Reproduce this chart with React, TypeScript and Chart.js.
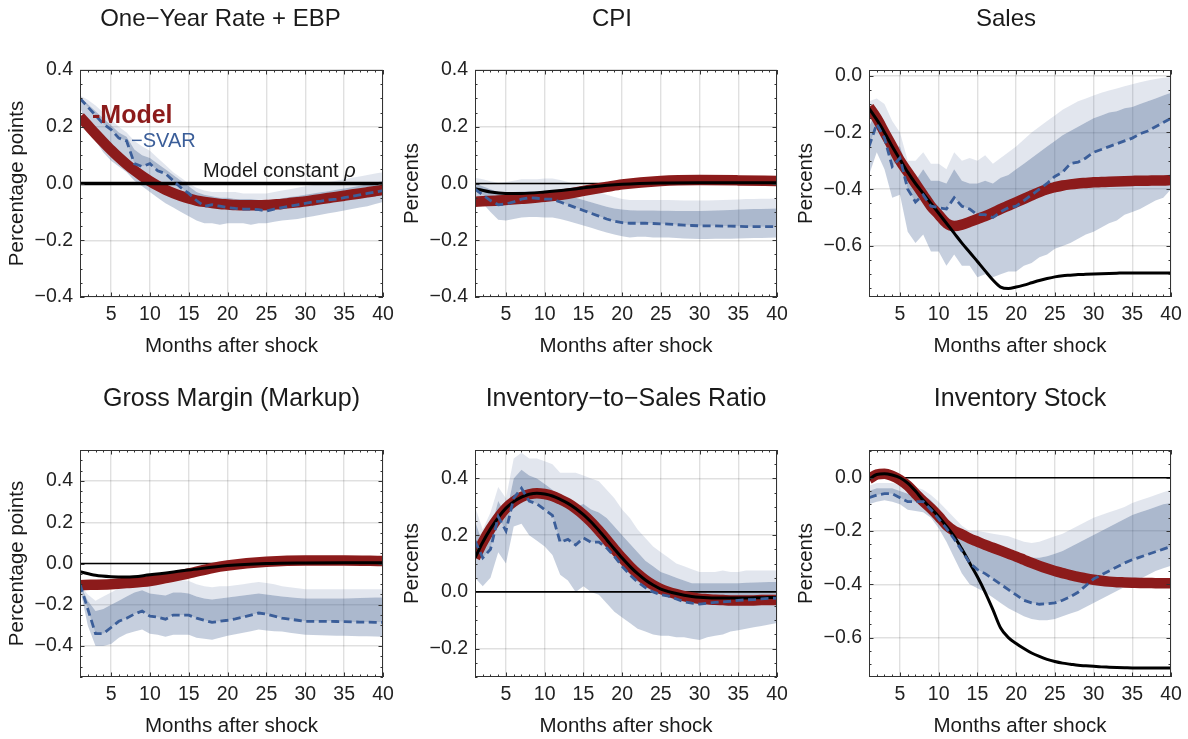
import React, { useEffect, useRef } from "react";
import { Chart, registerables } from "chart.js";

Chart.register(...registerables);

const FONT = '"Liberation Sans", Arial, Helvetica, sans-serif';

// ---------- shared axis data ----------
const MONTHS = [1, 2, 3, 4, 5, 6, 7, 8, 9, 10, 11, 12, 13, 14, 15, 16, 17, 18, 19, 20, 21, 22, 23, 24, 25, 26, 27, 28, 29, 30, 31, 32, 33, 34, 35, 36, 37, 38, 39, 40];
const X_TICKS = [5, 10, 15, 20, 25, 30, 35, 40];
const ZERO_MONTHS = [1, 40];
const ZERO_VALUES = [0, 0];

// ---------- Panel 1: One-Year Rate + EBP ----------
const RATE_SVAR = [0.30, 0.27, 0.24, 0.21, 0.19, 0.16, 0.15, 0.07, 0.06, 0.07, 0.045, 0.035, 0.01, -0.015, -0.035, -0.06, -0.08, -0.075, -0.08, -0.085, -0.088, -0.09, -0.09, -0.092, -0.097, -0.09, -0.085, -0.08, -0.075, -0.07, -0.065, -0.062, -0.058, -0.055, -0.05, -0.045, -0.04, -0.035, -0.03, -0.025];
const RATE_UP90 = [0.31, 0.295, 0.275, 0.25, 0.225, 0.2, 0.18, 0.15, 0.13, 0.115, 0.09, 0.065, 0.04, 0.02, 0.0, -0.015, -0.025, -0.03, -0.03, -0.03, -0.03, -0.035, -0.035, -0.035, -0.035, -0.03, -0.025, -0.02, -0.015, -0.01, -0.005, 0.0, 0.005, 0.01, 0.015, 0.02, 0.025, 0.03, 0.035, 0.04];
const RATE_UP68 = [0.305, 0.28, 0.255, 0.23, 0.205, 0.18, 0.165, 0.12, 0.1, 0.09, 0.07, 0.05, 0.03, 0.01, -0.01, -0.03, -0.04, -0.045, -0.05, -0.05, -0.055, -0.055, -0.055, -0.058, -0.06, -0.056, -0.052, -0.048, -0.044, -0.04, -0.035, -0.031, -0.027, -0.022, -0.018, -0.013, -0.008, -0.003, 0.003, 0.01];
const RATE_LOW = [0.27, 0.2, 0.15, 0.11, 0.08, 0.06, 0.04, 0.01, -0.01, -0.03, -0.05, -0.07, -0.085, -0.1, -0.115, -0.13, -0.14, -0.14, -0.145, -0.14, -0.14, -0.14, -0.145, -0.14, -0.14, -0.135, -0.13, -0.128, -0.125, -0.12, -0.115, -0.11, -0.105, -0.1, -0.095, -0.09, -0.085, -0.08, -0.072, -0.065];
const RATE_MODEL = [0.235, 0.205, 0.175, 0.146, 0.118, 0.092, 0.068, 0.046, 0.026, 0.008, -0.008, -0.022, -0.034, -0.044, -0.053, -0.06, -0.065, -0.069, -0.072, -0.074, -0.076, -0.077, -0.077, -0.077, -0.076, -0.074, -0.072, -0.069, -0.066, -0.063, -0.059, -0.055, -0.051, -0.047, -0.043, -0.039, -0.035, -0.031, -0.027, -0.023];
const RATE_CONST_MONTHS = [1, 40];
const RATE_CONST = [0, 0];

// ---------- Panel 2: CPI ----------
const CPI_SVAR = [-0.02, -0.04, -0.06, -0.075, -0.072, -0.065, -0.055, -0.05, -0.052, -0.055, -0.055, -0.065, -0.075, -0.085, -0.095, -0.105, -0.115, -0.125, -0.133, -0.138, -0.14, -0.14, -0.14, -0.141, -0.142, -0.143, -0.145, -0.147, -0.148, -0.149, -0.149, -0.149, -0.15, -0.15, -0.151, -0.152, -0.152, -0.152, -0.152, -0.152];
const CPI_UP90 = [0.02, 0.015, 0.008, 0.003, 0.005, 0.01, 0.015, 0.015, 0.015, 0.018, 0.018, 0.012, 0.005, -0.003, -0.01, -0.02, -0.03, -0.04, -0.048, -0.055, -0.058, -0.058, -0.058, -0.058, -0.058, -0.058, -0.059, -0.06, -0.06, -0.06, -0.06, -0.059, -0.058, -0.057, -0.056, -0.055, -0.055, -0.054, -0.054, -0.053];
const CPI_UP68 = [0.0, -0.01, -0.02, -0.03, -0.032, -0.03, -0.028, -0.027, -0.028, -0.03, -0.03, -0.035, -0.042, -0.05, -0.058, -0.066, -0.074, -0.082, -0.088, -0.092, -0.094, -0.095, -0.095, -0.095, -0.096, -0.096, -0.097, -0.097, -0.097, -0.097, -0.096, -0.095, -0.094, -0.093, -0.092, -0.091, -0.09, -0.09, -0.089, -0.088];
const CPI_LOW = [-0.04, -0.07, -0.1, -0.128, -0.13, -0.125, -0.12, -0.118, -0.118, -0.12, -0.12, -0.125, -0.132, -0.14, -0.148, -0.156, -0.165, -0.173, -0.18, -0.186, -0.19, -0.188, -0.188, -0.19, -0.19, -0.19, -0.192, -0.194, -0.195, -0.196, -0.196, -0.195, -0.195, -0.195, -0.194, -0.193, -0.192, -0.192, -0.191, -0.19];
const CPI_MODEL_MONTHS = [1, 4, 7, 10, 13, 15, 18, 20, 25, 30, 35, 40];
const CPI_MODEL = [-0.064, -0.06, -0.054, -0.047, -0.036, -0.026, -0.012, -0.003, 0.009, 0.012, 0.011, 0.009];
const CPI_CONST_MONTHS = [1, 3, 5, 7, 10, 13, 16, 20, 25, 30, 40];
const CPI_CONST = [-0.018, -0.03, -0.035, -0.035, -0.03, -0.022, -0.012, -0.003, 0.002, 0.003, 0.003];

// ---------- Panel 3: Sales ----------
const SALES_SVAR = [-0.25, -0.17, -0.22, -0.32, -0.29, -0.4, -0.445, -0.42, -0.46, -0.465, -0.47, -0.43, -0.46, -0.47, -0.49, -0.49, -0.5, -0.48, -0.465, -0.46, -0.44, -0.42, -0.4, -0.38, -0.355, -0.34, -0.31, -0.305, -0.29, -0.27, -0.26, -0.25, -0.24, -0.23, -0.22, -0.205, -0.195, -0.18, -0.165, -0.15];
const SALES_UP90 = [-0.09, -0.08, -0.1, -0.16, -0.2, -0.3, -0.3, -0.27, -0.31, -0.31, -0.33, -0.27, -0.3, -0.29, -0.3, -0.28, -0.31, -0.29, -0.27, -0.25, -0.225, -0.2, -0.18, -0.16, -0.14, -0.12, -0.105, -0.09, -0.08, -0.07, -0.06, -0.052, -0.045, -0.037, -0.03, -0.023, -0.017, -0.012, -0.007, -0.005];
const SALES_UP68 = [-0.18, -0.12, -0.16, -0.25, -0.25, -0.33, -0.37, -0.33, -0.37, -0.37, -0.38, -0.33, -0.37, -0.38, -0.38, -0.37, -0.38, -0.36, -0.35, -0.33, -0.31, -0.29, -0.27, -0.25, -0.23, -0.21, -0.195, -0.18, -0.165, -0.15, -0.14, -0.13, -0.125, -0.115, -0.11, -0.1, -0.09, -0.08, -0.07, -0.06];
const SALES_LOW = [-0.35, -0.27, -0.33, -0.43, -0.42, -0.55, -0.59, -0.56, -0.62, -0.62, -0.67, -0.63, -0.67, -0.67, -0.71, -0.7, -0.71, -0.7, -0.69, -0.69, -0.67, -0.66, -0.64, -0.63, -0.61, -0.6, -0.59, -0.575, -0.56, -0.55, -0.535, -0.52, -0.51, -0.49, -0.48, -0.47, -0.455, -0.44, -0.43, -0.4];
const SALES_MODEL = [-0.11, -0.15, -0.2, -0.25, -0.3, -0.34, -0.38, -0.42, -0.46, -0.49, -0.52, -0.53, -0.525, -0.515, -0.505, -0.495, -0.483, -0.47, -0.458, -0.446, -0.434, -0.422, -0.41, -0.4, -0.393, -0.387, -0.383, -0.38, -0.378, -0.376, -0.375, -0.374, -0.373, -0.372, -0.371, -0.37, -0.37, -0.369, -0.369, -0.368];
const SALES_CONST = [-0.115, -0.155, -0.2, -0.25, -0.295, -0.34, -0.38, -0.415, -0.45, -0.485, -0.52, -0.555, -0.59, -0.622, -0.655, -0.688, -0.72, -0.745, -0.75, -0.745, -0.738, -0.73, -0.722, -0.715, -0.709, -0.705, -0.703, -0.701, -0.7, -0.699, -0.698, -0.697, -0.696, -0.695, -0.695, -0.695, -0.695, -0.695, -0.695, -0.695];

// ---------- Panel 4: Gross Margin (Markup) ----------
const GM_SVAR = [-0.1, -0.22, -0.34, -0.34, -0.31, -0.28, -0.265, -0.245, -0.23, -0.255, -0.26, -0.27, -0.25, -0.25, -0.25, -0.265, -0.275, -0.285, -0.28, -0.275, -0.268, -0.26, -0.25, -0.24, -0.245, -0.255, -0.265, -0.27, -0.275, -0.28, -0.28, -0.28, -0.28, -0.281, -0.282, -0.283, -0.284, -0.284, -0.285, -0.285];
const GM_UP90 = [-0.1, -0.15, -0.18, -0.16, -0.14, -0.12, -0.1, -0.09, -0.085, -0.09, -0.095, -0.1, -0.085, -0.08, -0.085, -0.1, -0.11, -0.115, -0.11, -0.11, -0.105, -0.1, -0.095, -0.09, -0.095, -0.1, -0.11, -0.115, -0.12, -0.125, -0.125, -0.125, -0.125, -0.125, -0.125, -0.125, -0.125, -0.125, -0.125, -0.125];
const GM_UP68 = [-0.1, -0.18, -0.23, -0.22, -0.2, -0.18, -0.16, -0.14, -0.13, -0.145, -0.15, -0.155, -0.14, -0.14, -0.145, -0.16, -0.17, -0.175, -0.17, -0.165, -0.16, -0.155, -0.15, -0.145, -0.15, -0.155, -0.16, -0.163, -0.167, -0.17, -0.17, -0.17, -0.17, -0.17, -0.17, -0.168, -0.167, -0.166, -0.165, -0.165];
const GM_LOW = [-0.12, -0.3, -0.4, -0.4, -0.39, -0.36, -0.34, -0.33, -0.32, -0.34, -0.345, -0.355, -0.345, -0.345, -0.345, -0.36, -0.365, -0.37, -0.36, -0.35, -0.343, -0.335, -0.328, -0.32, -0.325, -0.328, -0.33, -0.335, -0.34, -0.345, -0.347, -0.348, -0.349, -0.35, -0.35, -0.351, -0.352, -0.353, -0.354, -0.355];
const GM_MODEL_MONTHS = [1, 5, 7, 10, 15, 18, 20, 25, 30, 35, 40];
const GM_MODEL = [-0.105, -0.1, -0.095, -0.085, -0.048, -0.022, -0.01, 0.008, 0.015, 0.015, 0.012];
const GM_CONST_MONTHS = [1, 3, 5, 7, 10, 15, 20, 25, 30, 35, 40];
const GM_CONST = [-0.04, -0.057, -0.064, -0.066, -0.055, -0.032, -0.01, 0.0, 0.003, 0.004, 0.004];

// ---------- Panel 5: Inventory-to-Sales Ratio ----------
const ISR_SVAR = [0.18, 0.12, 0.15, 0.265, 0.215, 0.33, 0.365, 0.32, 0.31, 0.29, 0.27, 0.175, 0.185, 0.165, 0.19, 0.175, 0.175, 0.155, 0.125, 0.09, 0.06, 0.035, 0.015, 0.0, -0.01, -0.015, -0.025, -0.035, -0.04, -0.043, -0.04, -0.037, -0.035, -0.033, -0.03, -0.028, -0.027, -0.025, -0.023, -0.022];
const ISR_UP90 = [0.3, 0.22, 0.28, 0.37, 0.33, 0.47, 0.49, 0.47, 0.47, 0.46, 0.45, 0.42, 0.42, 0.42, 0.41, 0.4, 0.39, 0.36, 0.33, 0.29, 0.26, 0.22, 0.19, 0.16, 0.14, 0.12, 0.1, 0.09, 0.08, 0.07, 0.07, 0.07, 0.075, 0.07, 0.07, 0.075, 0.075, 0.075, 0.075, 0.075];
const ISR_UP68 = [0.25, 0.17, 0.22, 0.32, 0.27, 0.4, 0.43, 0.41, 0.4, 0.38, 0.36, 0.31, 0.31, 0.3, 0.31, 0.29, 0.28, 0.26, 0.23, 0.2, 0.17, 0.14, 0.11, 0.09, 0.07, 0.06, 0.05, 0.04, 0.03, 0.03, 0.03, 0.03, 0.03, 0.03, 0.03, 0.032, 0.033, 0.034, 0.035, 0.035];
const ISR_LOW = [0.05, 0.02, 0.05, 0.14, 0.1, 0.23, 0.24, 0.2, 0.18, 0.16, 0.13, 0.06, 0.04, 0.0, 0.02, 0.0, -0.01, -0.04, -0.07, -0.09, -0.11, -0.13, -0.14, -0.15, -0.155, -0.155, -0.16, -0.16, -0.165, -0.17, -0.16, -0.155, -0.15, -0.14, -0.135, -0.13, -0.125, -0.12, -0.115, -0.11];
const ISR_MODEL = [0.12, 0.175, 0.222, 0.262, 0.295, 0.318, 0.334, 0.344, 0.348, 0.345, 0.338, 0.326, 0.312, 0.294, 0.272, 0.246, 0.216, 0.184, 0.151, 0.119, 0.09, 0.064, 0.042, 0.024, 0.01, 0.0, -0.008, -0.015, -0.02, -0.024, -0.026, -0.028, -0.029, -0.03, -0.03, -0.03, -0.03, -0.029, -0.029, -0.029];
const ISR_CONST = [0.12, 0.175, 0.222, 0.262, 0.295, 0.318, 0.334, 0.344, 0.348, 0.345, 0.338, 0.326, 0.312, 0.294, 0.272, 0.246, 0.216, 0.184, 0.151, 0.119, 0.09, 0.064, 0.042, 0.024, 0.01, 0.001, -0.006, -0.012, -0.016, -0.019, -0.021, -0.022, -0.022, -0.022, -0.022, -0.022, -0.021, -0.021, -0.02, -0.02];

// ---------- Panel 6: Inventory Stock ----------
const INV_SVAR = [-0.075, -0.065, -0.06, -0.06, -0.075, -0.09, -0.09, -0.09, -0.12, -0.155, -0.19, -0.23, -0.275, -0.32, -0.345, -0.36, -0.38, -0.4, -0.42, -0.44, -0.46, -0.47, -0.475, -0.473, -0.47, -0.46, -0.447, -0.43, -0.405, -0.38, -0.365, -0.35, -0.335, -0.32, -0.308, -0.298, -0.288, -0.278, -0.268, -0.258];
const INV_UP90 = [-0.03, -0.02, -0.02, -0.02, -0.025, -0.03, -0.035, -0.045, -0.065, -0.09, -0.12, -0.15, -0.18, -0.2, -0.2, -0.205, -0.21, -0.215, -0.22, -0.23, -0.24, -0.245, -0.24, -0.23, -0.22, -0.21, -0.195, -0.18, -0.165, -0.15, -0.14, -0.13, -0.12, -0.11, -0.095, -0.085, -0.075, -0.065, -0.055, -0.045];
const INV_UP68 = [-0.05, -0.04, -0.04, -0.04, -0.05, -0.06, -0.065, -0.065, -0.085, -0.12, -0.16, -0.2, -0.235, -0.25, -0.255, -0.26, -0.265, -0.27, -0.28, -0.29, -0.295, -0.3, -0.3, -0.295, -0.285, -0.275, -0.26, -0.245, -0.23, -0.215, -0.2, -0.185, -0.17, -0.155, -0.14, -0.13, -0.12, -0.11, -0.1, -0.095];
const INV_LOW = [-0.1, -0.09, -0.085, -0.09, -0.1, -0.12, -0.125, -0.13, -0.15, -0.19, -0.24, -0.3, -0.36, -0.4, -0.415, -0.43, -0.45, -0.47, -0.49, -0.505, -0.52, -0.53, -0.535, -0.535, -0.53, -0.52, -0.51, -0.5, -0.485, -0.47, -0.455, -0.44, -0.425, -0.41, -0.395, -0.38, -0.365, -0.35, -0.34, -0.33];
const INV_MODEL = [-0.005, 0.012, 0.015, 0.007, -0.008, -0.03, -0.06, -0.089, -0.115, -0.145, -0.178, -0.2, -0.213, -0.228, -0.24, -0.252, -0.263, -0.274, -0.285, -0.296, -0.308, -0.32, -0.331, -0.341, -0.35, -0.358, -0.366, -0.372, -0.378, -0.383, -0.387, -0.39, -0.392, -0.393, -0.394, -0.395, -0.395, -0.396, -0.396, -0.396];
const INV_CONST = [-0.005, 0.012, 0.015, 0.01, 0.0, -0.02, -0.05, -0.085, -0.115, -0.146, -0.182, -0.22, -0.268, -0.32, -0.372, -0.43, -0.495, -0.564, -0.6, -0.622, -0.641, -0.658, -0.671, -0.682, -0.69, -0.696, -0.7, -0.704, -0.706, -0.708, -0.71, -0.711, -0.712, -0.713, -0.714, -0.714, -0.714, -0.714, -0.714, -0.714];

// ---------- y-axis tick labels ----------
const Y_TICKS_RATE = [-0.4, -0.2, 0, 0.2, 0.4];
const Y_TICKS_CPI = [-0.4, -0.2, 0, 0.2, 0.4];
const Y_TICKS_SALES = [-0.6, -0.4, -0.2, 0];
const Y_TICKS_GM = [-0.4, -0.2, 0, 0.2, 0.4];
const Y_TICKS_ISR = [-0.2, 0, 0.2, 0.4];
const Y_TICKS_INV = [-0.6, -0.4, -0.2, 0];

// ---------- styling / layout ----------
const RED = "#8C1B1B";
const BLUE = "#3B5E99";
const BAND_LIGHT = "rgba(60,90,140,0.15)";
const BAND_DARK = "rgba(60,90,140,0.43)";
const BAND_MED = "rgba(60,90,140,0.29)";
const GRID = "rgba(0,0,0,0.12)";
const FRAME = "#333";
const TEXT = "#1a1a1a";
const TICK_TEXT = "#222";

const W = 1188;
const H = 739;
const PLOT_LEFT = [80, 475, 869];
const PLOT_RIGHT = [383, 777, 1171];
const PLOT_TOP = [70, 450];
const PLOT_BOTTOM = [297, 677];
const TITLE_SIZE = [24, 25];
const Y_AXIS_W = 80;
const X_AXIS_H = 40;

type Series = { months: number[]; values: number[] };
const S = (values: number[], months: number[] = MONTHS): Series => ({ months, values });

interface PanelDef {
  title: string;
  yLabel: string;
  yMin: number;
  yMax: number;
  yTicks: number[];
  up90: Series;
  up68: Series;
  svar: Series;
  low: Series;
  model: Series;
  constModel: Series;
  zeroLine: boolean;
  col: number;
  row: number;
  titleShift: number;
  annotate?: boolean;
}

const PANELS: PanelDef[] = [
  { title: "One\u2212Year Rate + EBP", yLabel: "Percentage points", yMin: -0.4, yMax: 0.4, yTicks: Y_TICKS_RATE,
    up90: S(RATE_UP90), up68: S(RATE_UP68), svar: S(RATE_SVAR), low: S(RATE_LOW), model: S(RATE_MODEL),
    constModel: S(RATE_CONST, RATE_CONST_MONTHS), zeroLine: false, col: 0, row: 0, titleShift: -11, annotate: true },
  { title: "CPI", yLabel: "Percents", yMin: -0.4, yMax: 0.4, yTicks: Y_TICKS_CPI,
    up90: S(CPI_UP90), up68: S(CPI_UP68), svar: S(CPI_SVAR), low: S(CPI_LOW), model: S(CPI_MODEL, CPI_MODEL_MONTHS),
    constModel: S(CPI_CONST, CPI_CONST_MONTHS), zeroLine: true, col: 1, row: 0, titleShift: -14 },
  { title: "Sales", yLabel: "Percents", yMin: -0.78, yMax: 0.02, yTicks: Y_TICKS_SALES,
    up90: S(SALES_UP90), up68: S(SALES_UP68), svar: S(SALES_SVAR), low: S(SALES_LOW), model: S(SALES_MODEL),
    constModel: S(SALES_CONST), zeroLine: false, col: 2, row: 0, titleShift: -14 },
  { title: "Gross Margin (Markup)", yLabel: "Percentage points", yMin: -0.55, yMax: 0.55, yTicks: Y_TICKS_GM,
    up90: S(GM_UP90), up68: S(GM_UP68), svar: S(GM_SVAR), low: S(GM_LOW), model: S(GM_MODEL, GM_MODEL_MONTHS),
    constModel: S(GM_CONST, GM_CONST_MONTHS), zeroLine: true, col: 0, row: 1, titleShift: 0 },
  { title: "Inventory\u2212to\u2212Sales Ratio", yLabel: "Percents", yMin: -0.3, yMax: 0.5, yTicks: Y_TICKS_ISR,
    up90: S(ISR_UP90), up68: S(ISR_UP68), svar: S(ISR_SVAR), low: S(ISR_LOW), model: S(ISR_MODEL),
    constModel: S(ISR_CONST), zeroLine: true, col: 1, row: 1, titleShift: 0 },
  { title: "Inventory Stock", yLabel: "Percents", yMin: -0.748, yMax: 0.104, yTicks: Y_TICKS_INV,
    up90: S(INV_UP90), up68: S(INV_UP68), svar: S(INV_SVAR), low: S(INV_LOW), model: S(INV_MODEL),
    constModel: S(INV_CONST), zeroLine: true, col: 2, row: 1, titleShift: 0 },
];

const fmtY = (v: number) => {
  if (Math.abs(v) < 1e-9) return "0.0";
  const s = Math.abs(v).toFixed(1);
  return v < 0 ? "\u2212" + s : s;
};

const pts = (s: Series) => s.months.map((m, i) => ({ x: m, y: s.values[i] }));

function makePlugin(p: PanelDef) {
  return {
    id: "frameAndText" + p.col + p.row,
    afterDraw(chart: any) {
      const { ctx, chartArea: a } = chart;
      const xs = chart.scales.x;
      const ys = chart.scales.y;
      ctx.save();
      // frame
      ctx.strokeStyle = FRAME;
      ctx.lineWidth = 1;
      ctx.strokeRect(a.left + 0.5, a.top + 0.5, a.right - a.left - 1, a.bottom - a.top - 1);
      // tick marks (inside, all four sides)
      ctx.beginPath();
      for (let m = Math.ceil(xs.min); m <= xs.max; m++) {
        const px = Math.round(xs.getPixelForValue(m)) + 0.5;
        const len = m % 5 === 0 ? 4.5 : 2.5;
        ctx.moveTo(px, a.bottom);
        ctx.lineTo(px, a.bottom - len);
        ctx.moveTo(px, a.top);
        ctx.lineTo(px, a.top + len);
      }
      const step = 0.05;
      for (let k = Math.ceil(ys.min / step - 1e-9); k * step <= ys.max + 1e-9; k++) {
        const py = Math.round(ys.getPixelForValue(k * step)) + 0.5;
        const len = k % 4 === 0 ? 4.5 : 2.5;
        ctx.moveTo(a.left, py);
        ctx.lineTo(a.left + len, py);
        ctx.moveTo(a.right, py);
        ctx.lineTo(a.right - len, py);
      }
      ctx.stroke();

      // titles
      const cx = (a.left + a.right) / 2;
      const cy = (a.top + a.bottom) / 2;
      ctx.fillStyle = TEXT;
      ctx.textBaseline = "alphabetic";
      ctx.textAlign = "center";
      ctx.font = `${TITLE_SIZE[p.row]}px ${FONT}`;
      ctx.fillText(p.title, cx + p.titleShift, a.top - 44);
      ctx.font = `20.5px ${FONT}`;
      ctx.fillText("Months after shock", cx, a.bottom + 55);
      ctx.save();
      ctx.translate(a.left - 57, cy);
      ctx.rotate(-Math.PI / 2);
      ctx.fillText(p.yLabel, 0, 0);
      ctx.restore();

      if (p.annotate) {
        ctx.textAlign = "left";
        ctx.fillStyle = RED;
        ctx.font = `bold 25px ${FONT}`;
        ctx.fillText("-Model", a.left + 12, a.top + 53);
        ctx.fillStyle = BLUE;
        ctx.font = `20px ${FONT}`;
        ctx.fillText("\u2212SVAR", a.left + 51, a.top + 77);
        ctx.fillStyle = TEXT;
        const txt = "Model constant ";
        ctx.fillText(txt, a.left + 123, a.top + 107);
        const w = ctx.measureText(txt).width;
        ctx.font = `italic 20px ${FONT}`;
        ctx.fillText("\u03c1", a.left + 123 + w, a.top + 107);
      }
      ctx.restore();
    },
  };
}

function buildConfig(p: PanelDef): any {
  const left = PLOT_LEFT[p.col];
  const right = PLOT_RIGHT[p.col];
  const top = PLOT_TOP[p.row];
  const bottom = PLOT_BOTTOM[p.row];
  const band = { pointRadius: 0, borderWidth: 0, borderColor: "rgba(0,0,0,0)", tension: 0 };
  const datasets: any[] = [
    { ...band, data: pts(p.up90), fill: 1, backgroundColor: BAND_LIGHT, order: 10 },
    { ...band, data: pts(p.up68), fill: 2, backgroundColor: BAND_DARK, order: 9 },
    { data: pts(p.svar), fill: false, borderColor: BLUE, borderWidth: 2.8, borderDash: [8, 4.5], pointRadius: 0, tension: 0, order: 0, clip: 0 },
    { ...band, data: pts(p.low), fill: 2, backgroundColor: BAND_MED, order: 8 },
  ];
  if (p.zeroLine) {
    datasets.push({ data: pts(S(ZERO_VALUES, ZERO_MONTHS)), fill: false, borderColor: "#000", borderWidth: 1.6, pointRadius: 0, order: 5, clip: 0 });
  }
  datasets.push({ data: pts(p.model), fill: false, borderColor: RED, borderWidth: 10.5, pointRadius: 0, cubicInterpolationMode: "monotone", order: 3, clip: 0, borderCapStyle: "butt", borderJoinStyle: "round" });
  datasets.push({ data: pts(p.constModel), fill: false, borderColor: "#000", borderWidth: p.annotate ? 3.5 : 3, pointRadius: 0, cubicInterpolationMode: "monotone", order: 2, clip: 0 });

  return {
    type: "line",
    data: { datasets },
    options: {
      responsive: false,
      animation: false,
      devicePixelRatio: 1,
      events: [],
      layout: { padding: { left: left - Y_AXIS_W, right: W - right, top, bottom: H - bottom - X_AXIS_H } },
      plugins: { legend: { display: false }, tooltip: { enabled: false }, title: { display: false } },
      scales: {
        x: {
          type: "linear",
          min: 1,
          max: 40,
          afterBuildTicks: (s: any) => { s.ticks = X_TICKS.map((v) => ({ value: v })); },
          afterFit: (s: any) => { s.height = X_AXIS_H; },
          grid: { color: GRID, lineWidth: 1.4, drawTicks: false },
          border: { display: false },
          ticks: { padding: 6, color: TICK_TEXT, font: { family: FONT, size: 19.5 }, maxRotation: 0, autoSkip: false },
        },
        y: {
          type: "linear",
          min: p.yMin,
          max: p.yMax,
          afterBuildTicks: (s: any) => { s.ticks = p.yTicks.map((v) => ({ value: v })); },
          afterFit: (s: any) => { s.width = Y_AXIS_W; },
          grid: { color: GRID, lineWidth: 1.4, drawTicks: false },
          border: { display: false },
          ticks: { padding: 7, color: TICK_TEXT, font: { family: FONT, size: 19.5 }, autoSkip: false, callback: (v: number) => fmtY(v) },
        },
      },
    },
    plugins: [makePlugin(p)],
  };
}

function Panel({ p }: { p: PanelDef }) {
  const ref = useRef<HTMLCanvasElement>(null);
  useEffect(() => {
    if (!ref.current) return;
    const chart = new Chart(ref.current, buildConfig(p));
    return () => chart.destroy();
  }, [p]);
  return (
    <canvas
      ref={ref}
      width={W}
      height={H}
      style={{ position: "absolute", left: 0, top: 0, width: W, height: H }}
    />
  );
}

export default function App() {
  return (
    <div style={{ position: "absolute", left: 0, top: 0, width: W, height: H, background: "#fff", overflow: "hidden" }}>
      {PANELS.map((p, i) => (
        <Panel key={i} p={p} />
      ))}
    </div>
  );
}
